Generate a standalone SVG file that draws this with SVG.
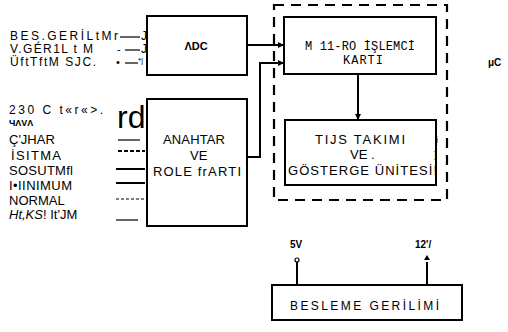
<svg xmlns="http://www.w3.org/2000/svg" width="508" height="332" viewBox="0 0 508 332">
<defs>
<marker id="ah" markerWidth="6" markerHeight="6" refX="5" refY="3" orient="auto" markerUnits="userSpaceOnUse"><path d="M0,0 L6,3 L0,6 z" fill="#000"/></marker>
<style>
.box{fill:#fff;stroke:#000;stroke-width:2}
.ln{fill:none;stroke:#000;stroke-width:2}
.thin{fill:none;stroke:#000;stroke-width:1.2}
.t{font-family:"Liberation Sans",Arial,sans-serif;fill:#000}
.m{font-family:"Liberation Mono","Courier New",monospace;fill:#000}
.c{text-anchor:middle}
</style>
</defs>
<rect width="508" height="332" fill="#fff"/>
<g id="dashed-frame"><rect x="274" y="5" width="173" height="195" fill="none" stroke="#000" stroke-width="2.2" stroke-dasharray="10,7"/></g>
<g id="adc"><rect class="box" x="147" y="16" width="100" height="59"/><text class="t c" x="196" y="50" style="font-size:11px;font-weight:bold">ΛDC</text></g>
<g id="mp"><rect class="box" x="284" y="17" width="152" height="57"/><text class="m" x="305" y="50" style="font-size:12px" textLength="110" lengthAdjust="spacing">M 11-RO İŞLEMCİ</text><text class="m" x="343" y="64" style="font-size:12px" textLength="40" lengthAdjust="spacing">KARTI</text></g>
<g id="display"><rect class="box" x="285" y="120" width="151" height="65"/><text class="t" x="315" y="144" style="font-size:13px" textLength="90" lengthAdjust="spacing">TIJS  TAKIMI</text><text class="t" x="350" y="159" style="font-size:13px">VE  .</text><text class="t" x="288" y="175" style="font-size:13px" textLength="149" lengthAdjust="spacing">GÖSTERGE  ÜNİTESİ!</text><text class="t" x="436" y="143" style="font-size:9px">i</text><text class="t" x="434" y="158" style="font-size:9px">]</text></g>
<g id="anahtar"><rect class="box" x="147" y="99" width="100" height="127"/><text class="t" x="163" y="144" style="font-size:13px" textLength="62">ANAHTAR</text><text class="t" x="190" y="160" style="font-size:13px">VE</text><text class="t" x="153" y="176" style="font-size:13px" textLength="88" lengthAdjust="spacing">ROLE  frARTI</text></g>
<g id="besleme"><rect class="box" x="272" y="285" width="190" height="35"/><text class="t" x="290" y="310" style="font-size:12px" textLength="149" lengthAdjust="spacing">BESLEME  GERİLİMİ</text></g>
<g id="connectors">
<line class="ln" x1="247" y1="45" x2="283" y2="45" marker-end="url(#ah)"/>
<polyline class="ln" points="247,157 260,157 260,63 283,63" marker-end="url(#ah)"/>
<line class="ln" x1="358" y1="74" x2="358" y2="119" marker-end="url(#ah)"/>
<line class="ln" x1="297" y1="262" x2="297" y2="285"/>
<circle cx="297" cy="260" r="2" fill="#fff" stroke="#000" stroke-width="1.2"/>
<line class="ln" x1="427" y1="262" x2="427" y2="285"/>
<path d="M424,260 L427,255 L430,260 z" fill="#000"/>
<line class="thin" x1="120" y1="37" x2="140" y2="37"/>
<line class="thin" x1="125" y1="50" x2="140" y2="50"/>
<line class="thin" x1="125" y1="63" x2="138" y2="63"/>
<line class="thin" x1="118" y1="140" x2="140" y2="140"/>
<line class="ln" x1="118" y1="151" x2="145" y2="151" stroke-dasharray="4,2"/>
<line class="ln" x1="116" y1="169" x2="145" y2="169"/>
<line class="ln" x1="116" y1="183" x2="145" y2="183"/>
<line class="thin" x1="116" y1="199" x2="145" y2="199" stroke-dasharray="3,2"/>
<line class="thin" x1="116" y1="220" x2="138" y2="220"/>
</g>
<g id="labels">
<text class="t" x="10" y="40" style="font-size:12px" textLength="108" lengthAdjust="spacing">BES.GERİLtMr</text><text class="t" x="141" y="40" style="font-size:12px">J</text>
<text class="t" x="10" y="53" style="font-size:12px" textLength="83" lengthAdjust="spacing">V.GÉR1L t M</text><text class="t" x="117" y="53" style="font-size:11px">-</text><text class="t" x="141" y="53" style="font-size:12px">J</text>
<text class="t" x="10" y="66" style="font-size:12px" textLength="86" lengthAdjust="spacing">ÜftTftM  SJC.</text><text class="t" x="116" y="66" style="font-size:11px">•</text><text class="t" x="138" y="63" style="font-size:8px">*|</text>
<text class="t" x="9" y="114" style="font-size:12px" textLength="94" lengthAdjust="spacing">230  C  t«r«&gt;.</text>
<text class="t" x="9" y="126" style="font-size:9px;font-weight:bold">ЧΛVΛ</text>
<text class="t" x="9" y="144" style="font-size:13px">Ç'JHAR</text>
<text class="t" x="11" y="160" style="font-size:13px" textLength="50" lengthAdjust="spacing">İSITMA</text>
<text class="t" x="9" y="175" style="font-size:13px" textLength="64" lengthAdjust="spacing">SOSUTMfl</text>
<text class="t" x="9" y="190" style="font-size:13px" textLength="63" lengthAdjust="spacing">I•IINIMUM</text>
<text class="t" x="9" y="205" style="font-size:13px">NORMAL</text>
<text class="t" x="9" y="219" style="font-size:13px"><tspan font-style="italic">Ht,KS</tspan>! It'JM</text>
<text class="t" x="117" y="128" style="font-size:32px">rd</text>
<text class="t" x="488" y="66" style="font-size:10px;font-weight:bold">μC</text>
<text class="t" x="290" y="248" style="font-size:10px;font-weight:bold">5V</text>
<text class="t" x="415" y="248" style="font-size:10px;font-weight:bold">12'/</text>
</g>
</svg>
